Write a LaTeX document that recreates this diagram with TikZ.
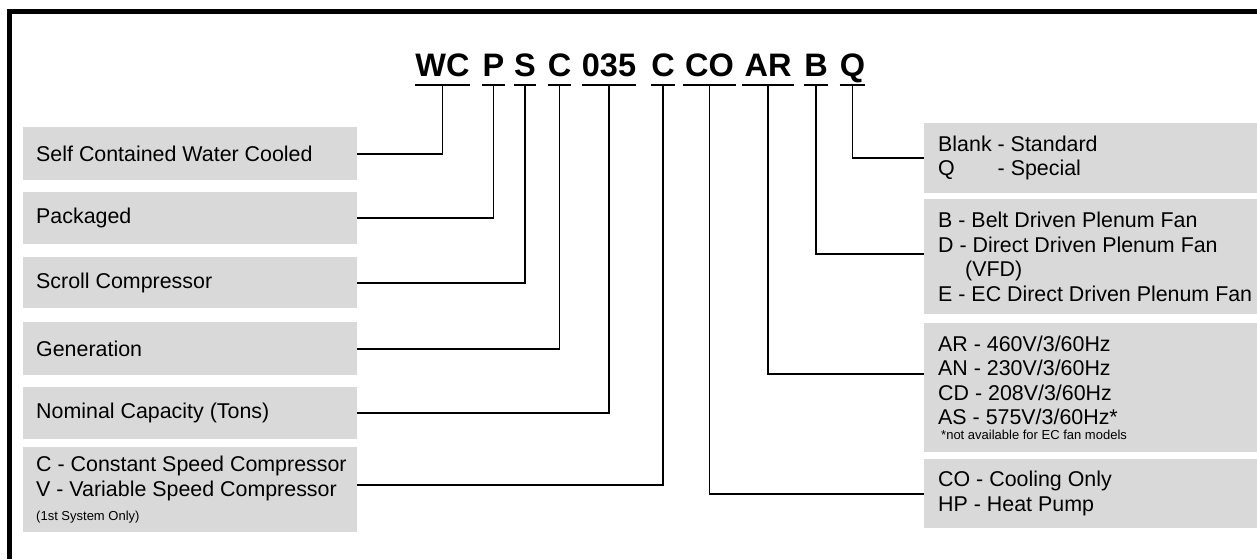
\documentclass[tikz,border=0pt]{standalone}
\usepackage{fontspec}
\setmainfont{Liberation Sans}
\definecolor{boxgray}{RGB}{217,217,217}
\newcommand{\smallnote}[1]{{\fontsize{13}{15}\selectfont #1}}

\begin{document}
\begin{tikzpicture}[x=1pt, y=-1pt,
        code/.style={font=\fontsize{32.5}{36}\selectfont\bfseries, inner sep=0pt, text depth=8pt, anchor=base},
        ul/.style={line width=2.6pt},
        lnk/.style={line width=1.6pt},
        leftbox/.style={fill=boxgray, anchor=north west, text width=308pt, inner xsep=13pt, inner ysep=0pt, align=flush left, font=\fontsize{21.4}{25}\selectfont},
        rightbox/.style={fill=boxgray, anchor=north west, text width=340pt, inner xsep=14pt, inner ysep=0pt, align=flush left, font=\fontsize{21.4}{24.5}\selectfont}]
            \useasboundingbox (0,0) rectangle (1257,559);
            \draw[line width=5pt] (9.5,559) -- (9.5,11.5) -- (1257,11.5);

            \node[code, minimum width=53pt] (cWC) at (442.5,77) {WC};
            \node[code, minimum width=21pt] (cP) at (493.5,77) {P};
            \node[code, minimum width=22pt] (cS) at (525,77) {S};
            \node[code, minimum width=23pt] (cGen) at (559.5,77) {C};
            \node[code, minimum width=54pt] (cCap) at (609,77) {035};
            \node[code, minimum width=22pt] (cCmp) at (663,77) {C};
            \node[code, minimum width=53pt] (cMode) at (709.5,77) {CO};
            \node[code, minimum width=52pt] (cVolt) at (768,77) {AR};
            \node[code, minimum width=22pt] (cFan) at (816,77) {B};
            \node[code, minimum width=21pt] (cOpt) at (852.5,77) {Q};

            \draw[ul] (cWC.south west) -- (cWC.south east);
            \draw[ul] (cP.south west) -- (cP.south east);
            \draw[ul] (cS.south west) -- (cS.south east);
            \draw[ul] (cGen.south west) -- (cGen.south east);
            \draw[ul] (cCap.south west) -- (cCap.south east);
            \draw[ul] (cCmp.south west) -- (cCmp.south east);
            \draw[ul] (cMode.south west) -- (cMode.south east);
            \draw[ul] (cVolt.south west) -- (cVolt.south east);
            \draw[ul] (cFan.south west) -- (cFan.south east);
            \draw[ul] (cOpt.south west) -- (cOpt.south east);

            \node[leftbox, minimum height=53pt] (bWC) at (23,127) {Self Contained Water Cooled};
            \node[leftbox, minimum height=52pt] (bP) at (23,192) {Packaged};
            \node[leftbox, minimum height=51pt] (bS) at (23,257) {Scroll Compressor};
            \node[leftbox, minimum height=53pt] (bGen) at (23,322) {Generation};
            \node[leftbox, minimum height=52pt] (bCap) at (23,387) {Nominal Capacity (Tons)};
            \node[leftbox, minimum height=85pt] (bCmp) at (23,447) {\mbox{C - Constant Speed Compressor}\\ \mbox{V - Variable Speed Compressor}\\[-1pt] \smallnote{(1st System Only)}};

            \node[rightbox, minimum height=70pt] (bOpt) at (924,123) {Blank - Standard\\ \leavevmode\rlap{Q}\phantom{Blank} - Special};
            \node[rightbox, minimum height=115pt] (bFan) at (924,199) {B - Belt Driven Plenum Fan\\ D - Direct Driven Plenum Fan\\ \hspace*{27pt}(VFD)\\ E - EC Direct Driven Plenum Fan};
            \node[rightbox, minimum height=129pt] (bVolt) at (924,323) {AR - 460V/3/60Hz\\ AN - 230V/3/60Hz\\ CD - 208V/3/60Hz\\ AS - 575V/3/60Hz*\\[-10pt] \smallnote{\hspace*{3pt}*not available for EC fan models}};
            \node[rightbox, minimum height=69pt] (bMode) at (924,459) {CO - Cooling Only\\ HP - Heat Pump};

            \draw[lnk] (cWC.south) |- (bWC.east);
            \draw[lnk] (cP.south) |- (bP.east);
            \draw[lnk] (cS.south) |- (bS.east);
            \draw[lnk] (cGen.south) |- (bGen.east);
            \draw[lnk] (cCap.south) |- (bCap.east);
            \draw[lnk] (cCmp.south) |- ([yshift=4.5pt]bCmp.east);
            \draw[lnk] (cMode.south) |- (bMode.west);
            \draw[lnk] (cVolt.south) |- ([yshift=13.5pt]bVolt.west);
            \draw[lnk] (cFan.south) |- ([yshift=2.5pt]bFan.west);
            \draw[lnk] (cOpt.south) |- (bOpt.west);
        \end{tikzpicture}
\end{document}
